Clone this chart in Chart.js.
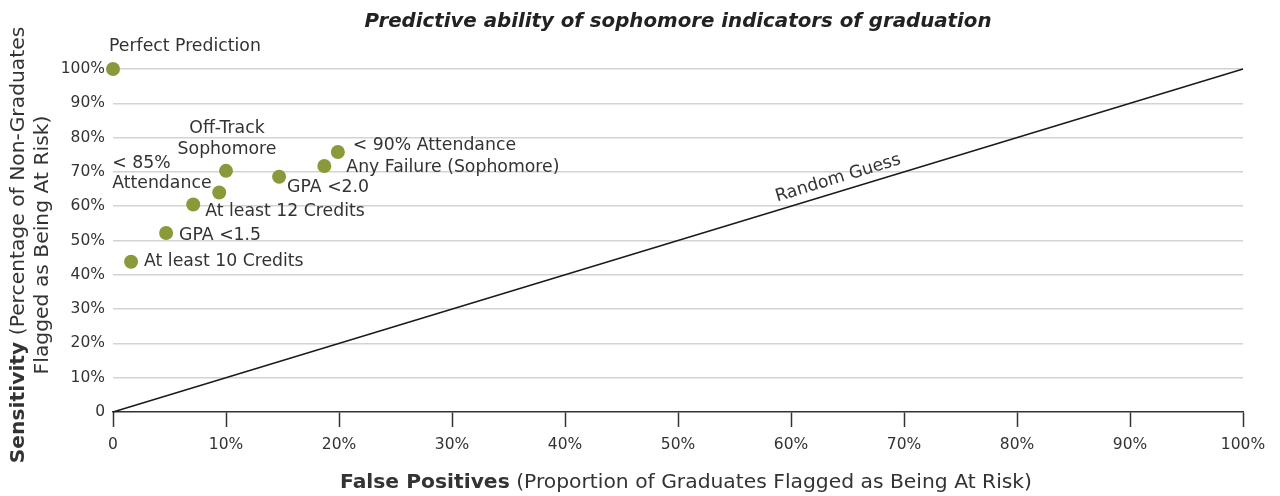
<!DOCTYPE html>
<html>
<head>
<meta charset="utf-8">
<script src="https://cdn.jsdelivr.net/npm/chart.js@4"></script>
<style>
  html, body { margin: 0; padding: 0; background: #ffffff; }
  #wrap { width: 1280px; height: 496px; position: relative; }
</style>
</head>
<body>
<div id="wrap"><canvas id="c"></canvas></div>
<script>
// ---- data ----
const categories = [
  'Perfect Prediction',
  'At least 10 Credits',
  'GPA <1.5',
  'At least 12 Credits',
  '< 85%\nAttendance',
  'Off-Track\nSophomore',
  'GPA <2.0',
  'Any Failure (Sophomore)',
  '< 90% Attendance'
];
const falsePositives = [0, 1.6, 4.7, 7.1, 9.4, 10.0, 14.7, 18.7, 19.9];
const sensitivity    = [100, 43.8, 52.2, 60.5, 64.0, 70.3, 68.6, 71.7, 75.8];
const randomGuessX = [0, 100];
const randomGuessY = [0, 100];
const tickValues = [0, 10, 20, 30, 40, 50, 60, 70, 80, 90, 100];
const tickLabels = ['0', '10%', '20%', '30%', '40%', '50%', '60%', '70%', '80%', '90%', '100%'];
const chartTitle = 'Predictive ability of sophomore indicators of graduation';
const xTitleBold = 'False Positives';
const xTitleRest = ' (Proportion of Graduates Flagged as Being At Risk)';
const yTitleBold = 'Sensitivity';
const yTitleRest1 = ' (Percentage of Non-Graduates';
const yTitleLine2 = 'Flagged as Being At Risk)';
const lineLabel = 'Random Guess';

// ---- styles (label offsets in px relative to each point) ----
const labelOffsets = [
  { dx: -4,   dy: -22, align: 'left' },
  { dx: 13,   dy: 0,   align: 'left' },
  { dx: 13,   dy: 3,   align: 'left' },
  { dx: 12,   dy: 7,   align: 'left' },
  { dx: -107, dy: -29, align: 'left' },
  { dx: 1,    dy: -42, align: 'center' },
  { dx: 8,    dy: 11,  align: 'left' },
  { dx: 22,   dy: 1,   align: 'left' },
  { dx: 15,   dy: -6,  align: 'left' }
];
const FONT = '"DejaVu Sans", "Open Sans", sans-serif';
const TEXT = '#333333';
const POINT = '#8a9a3b';
const LABEL_SIZE = 17.3;
const TICK_SIZE = 15.5;
const AXIS_TITLE_SIZE = 20.3;
const TITLE_SIZE = 19.8;

const labelPlugin = {
  id: 'customText',
  afterDatasetsDraw(chart) {
    const ctx = chart.ctx;
    const xs = chart.scales.x, ys = chart.scales.y;
    ctx.save();
    ctx.fillStyle = TEXT;
    ctx.font = LABEL_SIZE + 'px ' + FONT;
    ctx.textBaseline = 'middle';
    const meta = chart.getDatasetMeta(1);
    meta.data.forEach((pt, i) => {
      const off = labelOffsets[i];
      const lines = categories[i].split('\n');
      ctx.textAlign = off.align;
      lines.forEach((ln, j) => {
        ctx.fillText(ln, pt.x + off.dx, pt.y + off.dy + j * 20.5);
      });
    });
    // Random Guess label along the line
    const x0 = xs.getPixelForValue(randomGuessX[0]), y0 = ys.getPixelForValue(randomGuessY[0]);
    const x1 = xs.getPixelForValue(randomGuessX[1]), y1 = ys.getPixelForValue(randomGuessY[1]);
    const ang = Math.atan2(y1 - y0, x1 - x0);
    const t = 0.645;
    const px = x0 + (x1 - x0) * t, py = y0 + (y1 - y0) * t;
    ctx.save();
    ctx.translate(px, py);
    ctx.rotate(ang);
    ctx.textAlign = 'center';
    ctx.textBaseline = 'middle';
    ctx.font = LABEL_SIZE + 'px ' + FONT;
    ctx.fillText(lineLabel, 0, -13);
    ctx.restore();
    ctx.restore();
  },
  afterDraw(chart) {
    const ctx = chart.ctx;
    const ca = chart.chartArea;
    ctx.save();
    // title
    ctx.fillStyle = '#222222';
    ctx.font = 'italic bold ' + TITLE_SIZE + 'px ' + FONT;
    ctx.textAlign = 'center';
    ctx.textBaseline = 'middle';
    ctx.fillText(chartTitle, (ca.left + ca.right) / 2, 22);

    // x axis title
    ctx.fillStyle = TEXT;
    ctx.textAlign = 'left';
    const fb = 'bold ' + AXIS_TITLE_SIZE + 'px ' + FONT;
    const fr = AXIS_TITLE_SIZE + 'px ' + FONT;
    ctx.font = fb;
    const wb = ctx.measureText(xTitleBold).width;
    ctx.font = fr;
    const wr = ctx.measureText(xTitleRest).width;
    const cx = (ca.left + ca.right) / 2 + 8;
    const sx = cx - (wb + wr) / 2;
    ctx.font = fb;
    ctx.fillText(xTitleBold, sx, 483);
    ctx.font = fr;
    ctx.fillText(xTitleRest, sx + wb, 483);

    // y axis title (rotated, both lines centred)
    ctx.save();
    ctx.translate(19, (ca.top + ca.bottom) / 2 + 4.5);
    ctx.rotate(-Math.PI / 2);
    ctx.font = fb;
    const yb = ctx.measureText(yTitleBold).width;
    ctx.font = fr;
    const yr = ctx.measureText(yTitleRest1).width;
    const y2 = ctx.measureText(yTitleLine2).width;
    const start = -(yb + yr) / 2;
    ctx.font = fb;
    ctx.fillText(yTitleBold, start, 0);
    ctx.font = fr;
    ctx.fillText(yTitleRest1, start + yb, 0);
    ctx.fillText(yTitleLine2, -y2 / 2, 24);
    ctx.restore();
    ctx.restore();
  }
};

const tickCb = (v) => {
  const i = tickValues.indexOf(v);
  return i >= 0 ? tickLabels[i] : '';
};

new Chart(document.getElementById('c'), {
  type: 'scatter',
  data: {
    datasets: [
      {
        type: 'line',
        label: lineLabel,
        data: randomGuessX.map((x, i) => ({ x: x, y: randomGuessY[i] })),
        borderColor: '#1a1a1a',
        borderWidth: 1.5,
        pointRadius: 0,
        fill: false,
        clip: false
      },
      {
        label: 'Indicators',
        data: falsePositives.map((x, i) => ({ x: x, y: sensitivity[i] })),
        backgroundColor: POINT,
        borderWidth: 0,
        pointRadius: 7,
        pointHoverRadius: 7,
        clip: false
      }
    ]
  },
  options: {
    responsive: true,
    maintainAspectRatio: false,
    animation: false,
    events: [],
    layout: { padding: { top: 69, right: 37, left: 0, bottom: 0 } },
    plugins: {
      legend: { display: false },
      title: { display: false },
      tooltip: { enabled: false }
    },
    scales: {
      x: {
        type: 'linear',
        min: 0, max: 100,
        afterFit(s) { s.height = 84; },
        afterBuildTicks(s) { s.ticks = tickValues.map(v => ({ value: v })); },
        ticks: { callback: tickCb, color: TEXT, font: { family: FONT, size: TICK_SIZE }, padding: 9, maxRotation: 0 },
        grid: { drawOnChartArea: false, drawTicks: true, tickLength: 15, tickColor: '#333333', tickWidth: 1.5 },
        border: { display: true, color: '#333333', width: 1.5 }
      },
      y: {
        type: 'linear',
        min: 0, max: 100,
        afterFit(s) { s.width = 113; },
        afterBuildTicks(s) { s.ticks = tickValues.map(v => ({ value: v })); },
        ticks: { callback: tickCb, color: TEXT, font: { family: FONT, size: TICK_SIZE }, padding: 8 },
        grid: {
          drawTicks: false,
          color: (c) => (c.tick && c.tick.value === 0) ? 'rgba(0,0,0,0)' : '#d3d3d3',
          lineWidth: 1.5
        },
        border: { display: false }
      }
    }
  },
  plugins: [labelPlugin]
});
</script>
</body>
</html>
